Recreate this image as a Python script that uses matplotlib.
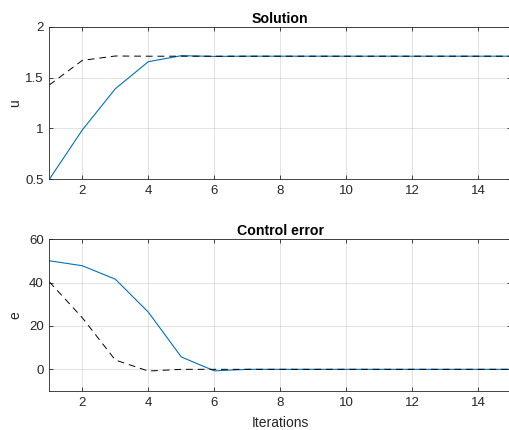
import matplotlib
matplotlib.use("Agg")
import matplotlib.pyplot as plt
import numpy as np

iters = list(range(1, 16))

# Solution u
u_solid = [0.5, 0.985, 1.39, 1.656, 1.715, 1.708, 1.71, 1.71, 1.71, 1.71, 1.71, 1.71, 1.71, 1.71, 1.71]
u_dash = [1.427, 1.669, 1.712, 1.71, 1.71, 1.71, 1.71, 1.71, 1.71, 1.71, 1.71, 1.71, 1.71, 1.71, 1.71]

# Control error e
e_solid = [50.1, 47.8, 41.6, 26.4, 5.7, -0.7, 0, 0, 0, 0, 0, 0, 0, 0, 0]
e_dash = [40.4, 23.8, 4.3, -0.8, 0, 0, 0, 0, 0, 0, 0, 0, 0, 0, 0]

plt.rcParams['font.family'] = ['Liberation Sans', 'DejaVu Sans']
plt.rcParams['font.size'] = 9.5

blue = '#0072BD'
axcol = '#262626'

fig = plt.figure(figsize=(5.1, 4.3), dpi=100)
W, H = 510.0, 430.0

def setup(ax, title, ylabel):
    for s in ax.spines.values():
        s.set_color(axcol)
        s.set_linewidth(0.6)
    ax.tick_params(direction='in', length=3, width=0.6, color=axcol,
                   top=True, right=True, labelsize=9.5, labelcolor=axcol, pad=4)
    ax.grid(True, color=axcol, alpha=0.15, linewidth=0.6)
    ax.set_axisbelow(True)
    ax.set_title(title, fontweight='bold', fontsize=10.2, pad=3)
    ax.set_ylabel(ylabel, color=axcol, fontsize=10)
    ax.yaxis.set_label_coords(-0.058, 0.5)
    ax.set_xlim(1, 15)
    ax.set_xticks([2, 4, 6, 8, 10, 12, 14])

# top axes: x 49.3..511.3, y 26.7..179.3
ax1 = fig.add_axes([49.3 / W, 1 - 179.3 / H, 462 / W, 152.6 / H])
ax1.plot(iters, u_solid, color=blue, lw=0.8)
ax1.plot(iters, u_dash, color='black', lw=0.7, ls=(0, (7, 5)))
setup(ax1, 'Solution', 'u')
ax1.set_ylim(0.5, 2)
ax1.set_yticks([0.5, 1, 1.5, 2])
ax1.set_yticklabels(['0.5', '1', '1.5', '2'])

# bottom axes: y 239.3..391
ax2 = fig.add_axes([49.3 / W, 1 - 391 / H, 462 / W, 151.7 / H])
ax2.plot(iters, e_solid, color=blue, lw=0.8)
ax2.plot(iters, e_dash, color='black', lw=0.7, ls=(0, (7, 5)))
setup(ax2, 'Control error', 'e')
ax2.set_ylim(-10, 60)
ax2.set_yticks([0, 20, 40, 60])
ax2.set_xlabel('Iterations', color=axcol, fontsize=10)
ax2.xaxis.set_label_coords(0.5, -0.165)

fig.savefig('out.png', dpi=100)
